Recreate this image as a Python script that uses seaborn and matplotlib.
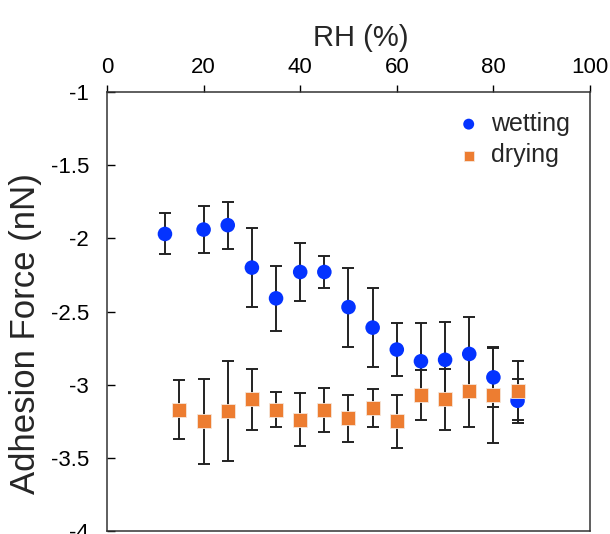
import matplotlib
matplotlib.use("Agg")
import matplotlib.pyplot as plt
import seaborn as sns
import pandas as pd

# values
rh_wet = [12, 20, 25, 30, 35, 40, 45, 50, 55, 60, 65, 70, 75, 80, 85]
force_wet = [-1.97, -1.94, -1.91, -2.20, -2.41, -2.23, -2.23, -2.47, -2.61, -2.76, -2.84, -2.83, -2.79, -2.95, -3.11]
err_wet = [0.14, 0.16, 0.16, 0.27, 0.22, 0.20, 0.11, 0.27, 0.27, 0.18, 0.26, 0.26, 0.25, 0.20, 0.15]

rh_dry = [15, 20, 25, 30, 35, 40, 45, 50, 55, 60, 65, 70, 75, 80, 85]
force_dry = [-3.17, -3.25, -3.18, -3.10, -3.17, -3.24, -3.17, -3.23, -3.16, -3.25, -3.07, -3.10, -3.04, -3.07, -3.04]
err_dry = [0.20, 0.29, 0.34, 0.21, 0.12, 0.18, 0.15, 0.16, 0.13, 0.18, 0.17, 0.21, 0.25, 0.33, 0.20]

x_ticks = [0, 20, 40, 60, 80, 100]
y_ticks = [-1, -1.5, -2, -2.5, -3, -3.5, -4]

df_wet = pd.DataFrame({"RH": rh_wet, "force": force_wet, "series": "wetting"})
df_dry = pd.DataFrame({"RH": rh_dry, "force": force_dry, "series": "drying"})

sns.set_style("white")
plt.rcParams["font.family"] = ["Liberation Sans", "DejaVu Sans"]

blue = "#0433FF"
orange = "#ED7D31"

fig = plt.figure(figsize=(6.1, 5.34), dpi=100)
ax = fig.add_axes([0.1754, 0.0056, 0.7918, 0.8221])

# error bars first so the markers sit on top
ax.errorbar(rh_wet, force_wet, yerr=err_wet, fmt="none", ecolor="#222222",
            elinewidth=1.4, capsize=4, capthick=1.4, zorder=1)
ax.errorbar(rh_dry, force_dry, yerr=err_dry, fmt="none", ecolor="#222222",
            elinewidth=1.4, capsize=4, capthick=1.4, zorder=1)

sns.scatterplot(data=df_wet, x="RH", y="force", ax=ax, color=blue, marker="o",
                s=110, edgecolor="none", label="wetting", zorder=3)
sns.scatterplot(data=df_dry, x="RH", y="force", ax=ax, color=orange, marker="s",
                s=92, edgecolor="#f6e6da", linewidth=0.6, label="drying", zorder=4)

ax.set_xlim(0, 100)
ax.set_ylim(-4, -1)
ax.set_xticks(x_ticks)
ax.set_yticks(y_ticks)
ax.set_yticklabels([f"{t:g}" for t in y_ticks])

# x axis lives on top, ticks outward; y ticks point inward
ax.xaxis.tick_top()
ax.xaxis.set_label_position("top")
ax.tick_params(axis="x", direction="out", length=5, width=1, labelsize=16, pad=5, colors="black")
ax.tick_params(axis="y", direction="in", length=6, width=1, labelsize=16, pad=13, colors="black")
ax.tick_params(top=True, bottom=False, left=True, right=False)

for side in ["top", "bottom", "left", "right"]:
    ax.spines[side].set_visible(True)
    ax.spines[side].set_color("#333333")
    ax.spines[side].set_linewidth(1.1)

ax.set_xlabel("RH (%)", fontsize=21, labelpad=10)
ax.xaxis.set_label_coords(0.526, 1.105)
ax.set_ylabel("Adhesion Force (nN)", fontsize=25)
ax.yaxis.set_label_coords(-0.135, 0.45)

leg = ax.legend(loc="upper right", frameon=False, fontsize=18, markerscale=0.75,
                handlelength=1.2, handletextpad=0.3, labelspacing=0.3, borderaxespad=0.3,
                bbox_to_anchor=(0.995, 0.995))

fig.savefig("out.png", dpi=100)
